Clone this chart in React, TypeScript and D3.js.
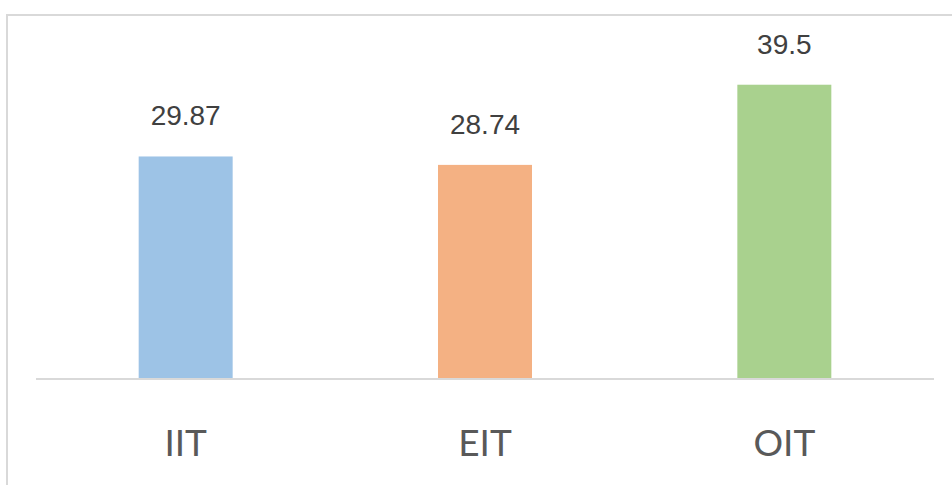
import { useEffect, useRef } from 'react';
import * as d3 from 'd3';

const categories = ['IIT', 'EIT', 'OIT'];
const values = [29.87, 28.74, 39.5];
const colors = ['#9dc3e6', '#f4b183', '#a9d18e'];

export default function App() {
  const svgRef = useRef<SVGSVGElement>(null);

  useEffect(() => {
    if (!svgRef.current) return;
    d3.select(svgRef.current).selectAll('*').remove();

    const width = 952;
    const height = 485;
    const svg = d3.select(svgRef.current).attr('width', width).attr('height', height);

    // outer chart border (runs off the right and bottom edges)
    svg
      .append('rect')
      .attr('x', 7)
      .attr('y', 15)
      .attr('width', 980)
      .attr('height', 520)
      .attr('fill', 'white')
      .attr('stroke', '#d9d9d9')
      .attr('stroke-width', 2);

    const x = d3.scaleBand().domain(categories).range([36, 934]).paddingInner(0.686).paddingOuter(0.343);
    const y = d3.scaleLinear().domain([0, 45]).range([379, 43.75]);

    svg
      .selectAll('rect.bar')
      .data(values)
      .join('rect')
      .attr('class', 'bar')
      .attr('x', (d, i) => x(categories[i])!)
      .attr('y', (d) => y(d))
      .attr('width', x.bandwidth())
      .attr('height', (d) => y(0) - y(d))
      .attr('fill', (d, i) => colors[i]);

    // baseline
    svg
      .append('line')
      .attr('x1', 36)
      .attr('x2', 934)
      .attr('y1', y(0))
      .attr('y2', y(0))
      .attr('stroke', '#d9d9d9')
      .attr('stroke-width', 2);

    // value labels
    svg
      .selectAll('text.value')
      .data(values)
      .join('text')
      .attr('class', 'value')
      .attr('x', (d, i) => x(categories[i])! + x.bandwidth() / 2)
      .attr('y', (d) => y(d) - 31)
      .attr('text-anchor', 'middle')
      .attr('font-family', '"Liberation Sans", Arial, sans-serif')
      .attr('font-size', 28)
      .attr('fill', '#404040')
      .text((d) => String(d));

    // category labels
    svg
      .selectAll('text.cat')
      .data(categories)
      .join('text')
      .attr('class', 'cat')
      .attr('x', (d) => x(d)! + x.bandwidth() / 2)
      .attr('y', 456)
      .attr('text-anchor', 'middle')
      .attr('font-family', 'Lato, "Noto Sans", sans-serif')
      .attr('font-size', 37)
      .attr('fill', '#595959')
      .text((d) => d);
  }, []);

  return <svg ref={svgRef} style={{ position: 'absolute', left: 0, top: 0 }}></svg>;
}
